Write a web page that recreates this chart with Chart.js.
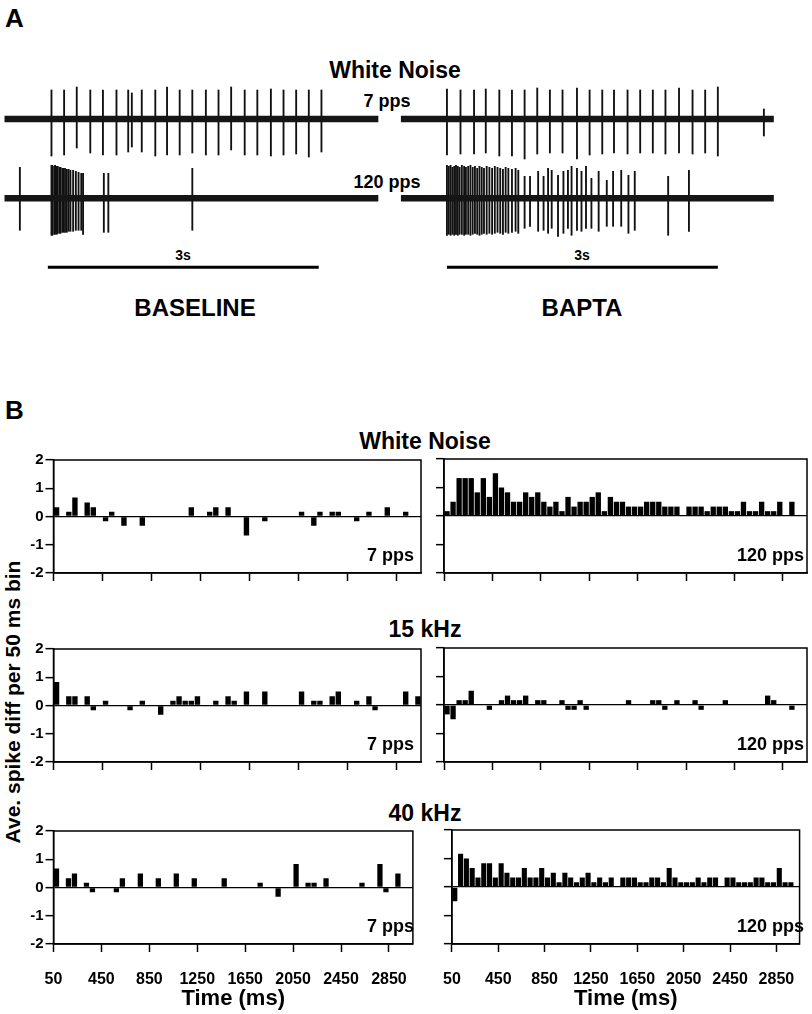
<!DOCTYPE html>
<html>
<head>
<meta charset="utf-8">
<script src="https://cdn.jsdelivr.net/npm/chart.js@4.4.1/dist/chart.umd.min.js"></script>
<style>
  body { margin: 0; background: #fff; }
  #fig { position: relative; width: 812px; height: 1014px; overflow: hidden; background: #fff;
         font-family: "Liberation Sans", Arial, sans-serif; font-weight: bold; color: #000; }
  #fig canvas { position: absolute; }
  .c { position: absolute; white-space: nowrap; line-height: 1; transform: translate(-50%, -50%); }
  .r { position: absolute; white-space: nowrap; line-height: 1; transform: translate(-100%, -50%); }
  .l { position: absolute; white-space: nowrap; line-height: 1; transform: translate(0, -50%); }
</style>
</head>
<body>
<div id="fig">
  <div class="l" style="left:5px;top:18px;font-size:26px">A</div>
  <div class="c" style="left:395px;top:70px;font-size:23px">White Noise</div>
  <div class="c" style="left:387px;top:101px;font-size:18px">7 pps</div>
  <div class="c" style="left:387px;top:182px;font-size:18px">120 pps</div>
  <div class="c" style="left:183px;top:255px;font-size:14px">3s</div>
  <div class="c" style="left:582px;top:255px;font-size:14px">3s</div>
  <div class="c" style="left:195px;top:308px;font-size:24px">BASELINE</div>
  <div class="c" style="left:582px;top:308px;font-size:24px">BAPTA</div>

  <div class="l" style="left:5px;top:410px;font-size:26px">B</div>
  <div class="c" style="left:425px;top:441px;font-size:23px">White Noise</div>
  <div class="c" style="left:425px;top:629px;font-size:23px">15 kHz</div>
  <div class="c" style="left:425px;top:813px;font-size:23px">40 kHz</div>
  <div class="c" style="left:12px;top:702px;font-size:21px;transform:translate(-50%,-50%) rotate(-90deg)">Ave. spike diff per 50 ms bin</div>

  <canvas id="trTL" width="400" height="84" style="left:0;top:78px"></canvas>
  <canvas id="trTR" width="400" height="84" style="left:400px;top:78px"></canvas>
  <canvas id="trBL" width="400" height="115" style="left:0;top:160px"></canvas>
  <canvas id="trBR" width="400" height="115" style="left:400px;top:160px"></canvas>

  <canvas id="h1L" width="425" height="136" style="left:0;top:449px"></canvas>
  <canvas id="h1R" width="387" height="136" style="left:425px;top:449px"></canvas>
  <canvas id="h2L" width="425" height="136" style="left:0;top:638px"></canvas>
  <canvas id="h2R" width="387" height="136" style="left:425px;top:638px"></canvas>
  <canvas id="h3L" width="425" height="194" style="left:0;top:820px"></canvas>
  <canvas id="h3R" width="387" height="194" style="left:425px;top:820px"></canvas>

  <div class="r" style="left:414px;top:555px;font-size:18px">7 pps</div>
  <div class="r" style="left:804px;top:555px;font-size:18px">120 pps</div>
  <div class="r" style="left:414px;top:744px;font-size:18px">7 pps</div>
  <div class="r" style="left:804px;top:744px;font-size:18px">120 pps</div>
  <div class="r" style="left:414px;top:926px;font-size:18px">7 pps</div>
  <div class="r" style="left:804px;top:926px;font-size:18px">120 pps</div>
</div>
<script>
// ---- panel A: spike times (s from stimulus onset) and peak amplitudes (arb. units)
const base7Times = [0.04, 0.18, 0.32, 0.47, 0.61, 0.76, 0.89, 0.93, 1.04, 1.19, 1.32, 1.46, 1.60, 1.75, 1.89, 2.03, 2.18, 2.32, 2.47, 2.61, 2.75, 2.89, 3.03];
const base7Up = [29, 29, 32, 29, 29, 29, 29, 26, 29, 29, 32, 29, 29, 29, 29, 32, 29, 29, 30, 29, 29, 29, 29];
const base7Down = [-37, -36, -29, -34, -36, -36, -33, -28, -33, -37, -36, -36, -34, -36, -36, -31, -36, -36, -37, -36, -35, -38, -33];

const bapta7Times = [0.00, 0.15, 0.30, 0.43, 0.58, 0.72, 0.86, 1.00, 1.14, 1.28, 1.44, 1.58, 1.72, 1.85, 2.00, 2.14, 2.28, 2.42, 2.57, 2.72, 2.86, 3.00, 3.51];
const bapta7Up = [30, 29, 29, 30, 29, 29, 29, 31, 29, 29, 31, 29, 29, 29, 29, 29, 29, 29, 31, 29, 29, 32, 10];
const bapta7Down = [-36, -35, -35, -34, -37, -37, -40, -35, -34, -34, -40, -36, -35, -34, -35, -34, -34, -35, -34, -35, -34, -37, -17];

const base120Times = [-0.31, 0.04, 0.05, 0.07, 0.08, 0.10, 0.11, 0.13, 0.14, 0.16, 0.17, 0.19, 0.21, 0.23, 0.25, 0.28, 0.31, 0.34, 0.37, 0.39, 0.62, 0.67, 1.60];
const base120Up = [31, 33, 33, 32, 33, 32, 32, 31, 31, 30, 30, 30, 29, 29, 28, 28, 27, 26, 25, 25, 25, 25, 30];
const base120Down = [-32, -37, -37, -36, -36, -36, -35, -35, -35, -34, -34, -34, -34, -33, -33, -33, -32, -32, -32, -36, -34, -34, -32];

const bapta120Times = [0.00, 0.02, 0.04, 0.06, 0.08, 0.10, 0.12, 0.14, 0.165, 0.19, 0.21, 0.235, 0.26, 0.285, 0.31, 0.335,
  0.36, 0.385, 0.41, 0.44, 0.47, 0.50, 0.53, 0.56, 0.59, 0.62, 0.65, 0.68, 0.72, 0.76, 0.79,
  0.86, 0.92, 1.01, 1.07, 1.12, 1.16, 1.23, 1.29, 1.34, 1.38, 1.44, 1.49, 1.54, 1.60, 1.68, 1.77, 1.84, 1.93, 2.01, 2.08, 2.45, 2.68];
const bapta120Up = [33, 32, 33, 31, 32, 33, 32, 31, 33, 32, 31, 32, 33, 31, 32, 30, 32, 31, 30, 32, 31, 30, 32, 31, 30, 29, 31, 30, 29, 30, 28,
  22, 22, 27, 22, 30, 28, 23, 27, 28, 32, 30, 27, 32, 20, 27, 18, 27, 28, 23, 27, 22, 28];
const bapta120Down = [-37, -36, -37, -36, -37, -36, -37, -36, -36, -37, -36, -36, -37, -36, -35, -36, -37, -36, -35, -36, -35, -36, -35, -34, -35, -36, -34, -35, -34, -33, -35,
  -30, -28, -33, -32, -35, -30, -38, -35, -30, -37, -32, -33, -30, -30, -33, -28, -28, -28, -35, -32, -37, -33];

const traceExtentL = [-0.48, 3.66];
const traceExtentR = [-0.51, 3.62];
const scaleBar = [0, 3];          // 3 s
const scaleBarLevel = -69;

// ---- panel B: average spike difference per 50 ms bin (60 bins, 50-3050 ms)
const timeTicks = [50, 450, 850, 1250, 1650, 2050, 2450, 2850];
const binStarts = Array.from({ length: 60 }, (_, i) => 50 + 50 * i);

const wnPps7 = [
  0.33, 0, 0.17, 0.67, 0, 0.5, 0.33, 0, -0.17, 0.17,
  0, -0.33, 0, 0, -0.33, 0, 0, 0, 0, 0,
  0, 0, 0.33, 0, 0, 0.17, 0.33, 0, 0.33, 0,
  0, -0.67, 0, 0, -0.17, 0, 0, 0, 0, 0,
  0.17, 0, -0.33, 0.17, 0, 0.17, 0.17, 0, 0, -0.17,
  0, 0.17, 0, 0, 0.33, 0, 0, 0.17, 0, 0];
const wnPps120 = [
  0.17, 0.5, 1.33, 1.33, 1.33, 0.83, 1.33, 0.67, 1.5, 1.0,
  0.83, 0.5, 0.5, 0.83, 0.67, 0.83, 0.5, 0.33, 0.5, 0.17,
  0.67, 0.33, 0.5, 0.5, 0.67, 0.83, 0.17, 0.67, 0.5, 0.5,
  0.33, 0.33, 0.33, 0.5, 0.5, 0.5, 0.33, 0.33, 0.33, 0.02,
  0.33, 0.33, 0.33, 0.17, 0.33, 0.33, 0.33, 0.17, 0.17, 0.5,
  0.17, 0.17, 0.5, 0.17, 0.17, 0.5, 0.02, 0.5, 0.02, 0];
const k15Pps7 = [
  0.83, 0, 0.33, 0.33, 0, 0.33, -0.17, 0, 0.17, 0,
  0, 0, -0.17, 0, 0.17, 0, 0, -0.33, 0, 0.17,
  0.33, 0.17, 0.17, 0.33, 0, 0, 0.17, 0, 0.33, 0.17,
  0, 0.5, 0, 0, 0.5, 0, 0, 0, 0, 0,
  0.5, 0, 0.17, 0.17, 0, 0.33, 0.5, 0, 0, 0.17,
  0, 0.33, -0.17, 0, 0, 0, 0, 0.5, 0, 0.33];
const k15Pps120 = [
  -0.33, -0.5, 0.17, 0.17, 0.5, 0, 0, -0.17, 0, 0.17,
  0.33, 0.17, 0.17, 0.33, 0, 0.17, 0.17, 0, 0, 0.17,
  -0.17, -0.17, 0.17, -0.17, 0, 0, 0, 0, 0, 0,
  0.17, 0, 0, 0, 0.17, 0.17, -0.17, 0, 0.17, 0,
  0, 0.17, -0.17, 0, 0, 0, 0.17, 0, 0, 0,
  0, 0, 0, 0.33, 0.17, 0, 0, -0.17, 0, 0];
const k40Pps7 = [
  0.67, 0, 0.33, 0.5, 0, 0.17, -0.17, 0, 0, 0,
  -0.17, 0.33, 0, 0, 0.5, 0, 0, 0.33, 0, 0,
  0.5, 0, 0, 0.33, 0, 0, 0, 0, 0.33, 0,
  0, 0, 0, 0, 0.17, 0, 0, -0.33, 0, 0,
  0.83, 0, 0.17, 0.17, 0, 0.33, 0, 0, 0, 0,
  0, 0.17, 0, 0, 0.83, -0.17, 0, 0.5, 0, 0];
const k40Pps120 = [
  -0.5, 1.17, 1.0, 0.67, 0.33, 0.83, 0.83, 0.33, 0.83, 0.5,
  0.33, 0.33, 0.67, 0.33, 0.33, 0.67, 0.33, 0.5, 0.17, 0.5,
  0.33, 0.17, 0.33, 0.5, 0.17, 0.33, 0.17, 0.33, 0.02, 0.33,
  0.33, 0.33, 0.17, 0.17, 0.33, 0.33, 0.17, 0.67, 0.33, 0.17,
  0.17, 0.17, 0.33, 0.17, 0.33, 0.33, 0.02, 0.33, 0.33, 0.17,
  0.17, 0.17, 0.33, 0.33, 0.17, 0.17, 0.67, 0.17, 0.17, 0];

Chart.defaults.font.family = '"Liberation Sans", Arial, sans-serif';
Chart.defaults.font.weight = 'bold';
Chart.defaults.color = '#000';

// box around each histogram
const framePlugin = {
  id: 'frame',
  afterDatasetsDraw(chart) {
    const { ctx, chartArea: a } = chart;
    ctx.save();
    ctx.strokeStyle = '#000';
    ctx.lineWidth = 1.5;
    ctx.strokeRect(a.left, a.top, a.right - a.left, a.bottom - a.top);
    ctx.restore();
  }
};

function trace(id, win, yRange, extent, times, up, down, withBar) {
  const datasets = [
    { type: 'line', data: [{ x: extent[0], y: 0 }, { x: extent[1], y: 0 }],
      borderColor: '#151515', borderWidth: 6.5, pointRadius: 0, borderCapStyle: 'butt' },
    { type: 'bar', data: times.map((t, i) => ({ x: t, y: [down[i], up[i]] })),
      backgroundColor: '#111', barThickness: 1.2 }
  ];
  if (withBar) {
    datasets.push({ type: 'line', data: scaleBar.map(t => ({ x: t, y: scaleBarLevel })),
      borderColor: '#000', borderWidth: 3, pointRadius: 0, borderCapStyle: 'butt' });
  }
  new Chart(document.getElementById(id), {
    type: 'bar',
    data: { datasets },
    options: {
      responsive: false, animation: false,
      layout: { padding: 0 },
      plugins: { legend: { display: false }, tooltip: { enabled: false } },
      scales: {
        x: { type: 'linear', min: win[0], max: win[1], display: false, offset: false, grid: { offset: false } },
        y: { min: yRange[0], max: yRange[1], display: false }
      }
    }
  });
}

const winL = [-0.53, 3.9];
const winR = [-0.52, 3.91];
trace('trTL', winL, [-43, 41], traceExtentL, base7Times, base7Up, base7Down, false);
trace('trTR', winR, [-43, 41], traceExtentR, bapta7Times, bapta7Up, bapta7Down, false);
trace('trBL', winL, [-76.7, 38.3], traceExtentL, base120Times, base120Up, base120Down, true);
trace('trBR', winR, [-76.7, 38.3], traceExtentR, bapta120Times, bapta120Up, bapta120Down, true);

function histogram(id, values, isLeft, showX) {
  new Chart(document.getElementById(id), {
    type: 'bar',
    data: {
      datasets: [{
        data: binStarts.map((b, i) => ({ x: b + 25, y: values[i] })),
        backgroundColor: '#000', borderWidth: 0,
        barPercentage: 0.88, categoryPercentage: 1
      }]
    },
    options: {
      responsive: false, animation: false,
      layout: { padding: { top: 10, right: isLeft ? 4 : 5, left: 0, bottom: 0 } },
      plugins: { legend: { display: false }, tooltip: { enabled: false } },
      scales: {
        x: {
          type: 'linear', min: 50, max: 3050, offset: false,
          afterBuildTicks: s => { s.ticks = timeTicks.map(v => ({ value: v })); },
          afterFit: s => { s.height = showX ? 70 : 12; },
          grid: { offset: false, drawOnChartArea: false, drawTicks: true, tickLength: 8, tickWidth: 1.5, tickColor: '#000' },
          border: { display: true, color: '#000', width: 1.5 },
          ticks: { display: showX, autoSkip: false, maxRotation: 0, padding: 18,
                   font: { size: 16, weight: 'bold' }, callback: v => String(v) },
          title: { display: showX, text: 'Time (ms)', font: { size: 22, weight: 'bold' },
                   padding: { top: 0, bottom: 2 } }
        },
        y: {
          min: -2, max: 2,
          afterFit: s => { s.width = isLeft ? 53.5 : 19; },
          grid: { drawTicks: true, tickLength: 8, tickWidth: 1.5, tickColor: '#000', lineWidth: 1.3,
                  color: c => (c.tick && c.tick.value === 0 ? '#000' : 'rgba(0,0,0,0)') },
          border: { display: true, color: '#000', width: 1.5 },
          ticks: { display: isLeft, stepSize: 1, padding: 2, font: { size: 15, weight: 'bold' } }
        }
      }
    },
    plugins: [framePlugin]
  });
}

histogram('h1L', wnPps7, true, false);
histogram('h1R', wnPps120, false, false);
histogram('h2L', k15Pps7, true, false);
histogram('h2R', k15Pps120, false, false);
histogram('h3L', k40Pps7, true, true);
histogram('h3R', k40Pps120, false, true);
</script>
</body>
</html>
